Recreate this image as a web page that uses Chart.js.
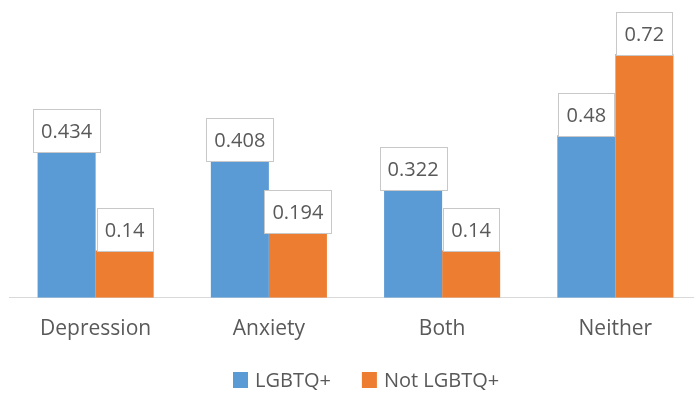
<!DOCTYPE html>
<html>
<head>
<meta charset="utf-8">
<script src="https://cdn.jsdelivr.net/npm/chart.js@4"></script>
<style>
  html, body { margin: 0; padding: 0; background: #fff; overflow: hidden; }
  #wrap { width: 702px; height: 396px; }
</style>
</head>
<body>
<div id="wrap"><canvas id="chart" width="702" height="396"></canvas></div>
<script>
const categories = ["Depression", "Anxiety", "Both", "Neither"];
const lgbtq = [0.434, 0.408, 0.322, 0.48];
const notLgbtq = [0.14, 0.194, 0.14, 0.72];
const seriesNames = ["LGBTQ+", "Not LGBTQ+"];
const colors = ["#5B9BD5", "#ED7D31"];

const FONT = '"Open Sans", sans-serif';
const TEXT = "#595959";

// value boxes sitting on top of each bar
const boxLabels = {
  id: "boxLabels",
  afterDatasetsDraw(chart) {
    const ctx = chart.ctx;
    ctx.save();
    ctx.font = "20px " + FONT;
    ctx.textAlign = "center";
    ctx.textBaseline = "middle";
    chart.data.datasets.forEach((ds, i) => {
      chart.getDatasetMeta(i).data.forEach((bar, j) => {
        const txt = String(ds.data[j]);
        const w = Math.round(ctx.measureText(txt).width + 16);
        const h = 43;
        const left = Math.round(bar.x - w / 2) + 0.5;
        const top = Math.round(bar.y + 1 - h) + 0.5;
        ctx.fillStyle = "#fff";
        ctx.fillRect(left, top, w, h);
        ctx.strokeStyle = "#c8c8c8";
        ctx.lineWidth = 1;
        ctx.strokeRect(left, top, w, h);
        ctx.fillStyle = TEXT;
        ctx.fillText(txt, bar.x, top + h / 2 + 1);
      });
    });
    ctx.restore();
  }
};

// legend drawn under the axis
const bottomLegend = {
  id: "bottomLegend",
  afterDraw(chart) {
    const ctx = chart.ctx;
    ctx.save();
    ctx.font = "20px " + FONT;
    ctx.textBaseline = "middle";
    ctx.textAlign = "left";
    let x = 233;
    const y = 380;
    seriesNames.forEach((name, i) => {
      ctx.fillStyle = colors[i];
      ctx.fillRect(x, y - 8, 15, 16);
      x += 22;
      ctx.fillStyle = TEXT;
      ctx.fillText(name, x, y + 1);
      x += ctx.measureText(name).width + 31;
    });
    ctx.restore();
  }
};

new Chart(document.getElementById("chart"), {
  type: "bar",
  data: {
    labels: categories,
    datasets: [
      { label: seriesNames[0], data: lgbtq, backgroundColor: colors[0] },
      { label: seriesNames[1], data: notLgbtq, backgroundColor: colors[1] }
    ]
  },
  options: {
    responsive: false,
    animation: false,
    devicePixelRatio: 1,
    layout: { padding: { left: 9, right: 0, top: 27, bottom: 35 } },
    datasets: { bar: { categoryPercentage: 0.67, barPercentage: 1.0 } },
    plugins: { legend: { display: false }, tooltip: { enabled: false } },
    scales: {
      x: {
        grid: { display: false, drawTicks: false },
        border: { display: true, color: "#D9D9D9", width: 1 },
        ticks: { color: TEXT, font: { family: FONT, size: 21, lineHeight: 1.2 }, padding: 19 }
      },
      y: { display: false, min: 0, max: 0.8 }
    }
  },
  plugins: [boxLabels, bottomLegend]
});
</script>
</body>
</html>
